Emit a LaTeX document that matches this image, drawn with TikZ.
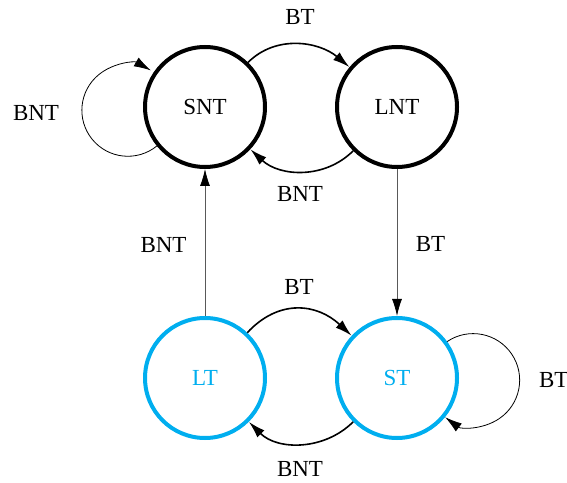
\documentclass[tikz,border=0pt]{standalone}
\usepackage{fontspec}
\setmainfont{Liberation Serif}
\usetikzlibrary{arrows.meta}
\definecolor{stblue}{RGB}{0,174,239}
\begin{document}
\begin{tikzpicture}[x=1pt,y=1pt,
  txt/.style={font=\fontsize{23}{27}\selectfont, inner sep=0pt},
  state/.style={circle, draw, line width=4pt, minimum size=120pt, inner sep=0pt, txt},
  tstate/.style={state, draw=stblue, text=stblue},
  tip/.style={-{Latex[length=17pt,width=10pt]}},
  conn/.style={tip, line width=1.6pt},
  lconn/.style={tip, line width=0.8pt},
  vconn/.style={line width=0.8pt, draw=black!65, -{Latex[length=17pt,width=10pt,fill=black,color=black]}}
]
\useasboundingbox (0,0) rectangle (567,482);
\node[state] (SNT) at (205,375) {SNT};
\node[state] (LNT) at (397,375) {LNT};
\node[tstate] (LT) at (205,104) {LT};
\node[tstate] (ST) at (397,104) {ST};

% top pair
\draw[conn] (SNT.46) to[out=45,in=140] (LNT.140);
\draw[conn] (LNT.225) to[out=225,in=-43] (SNT.-43);
% bottom pair
\draw[conn] (LT.47) to[out=47,in=137,looseness=1.15] (ST.137);
\draw[conn] (ST.225) to[out=225,in=-45] (LT.-45);
% self loops
\draw[lconn] (SNT.219) arc[start angle=-51, end angle=-300, radius=46pt];
\draw[lconn] (ST.36) arc[start angle=124, end angle=-127, radius=46.5pt];
% verticals
\draw[vconn] (LT.north) -- (SNT.south);
\draw[vconn] (LNT.south) -- (ST.north);

% labels
\node[txt] (l1) at (300,464.5) {BT};
\node[txt] (l2) at (300,287.5) {BNT};
\node[txt] (l3) at (36,368.7) {BNT};
\node[txt] (l4) at (163.5,237) {BNT};
\node[txt] (l5) at (430.5,237.5) {BT};
\node[txt] (l6) at (299,195) {BT};
\node[txt] (l7) at (300,13) {BNT};
\node[txt] (l8) at (553.7,102) {BT};
\end{tikzpicture}
\end{document}
